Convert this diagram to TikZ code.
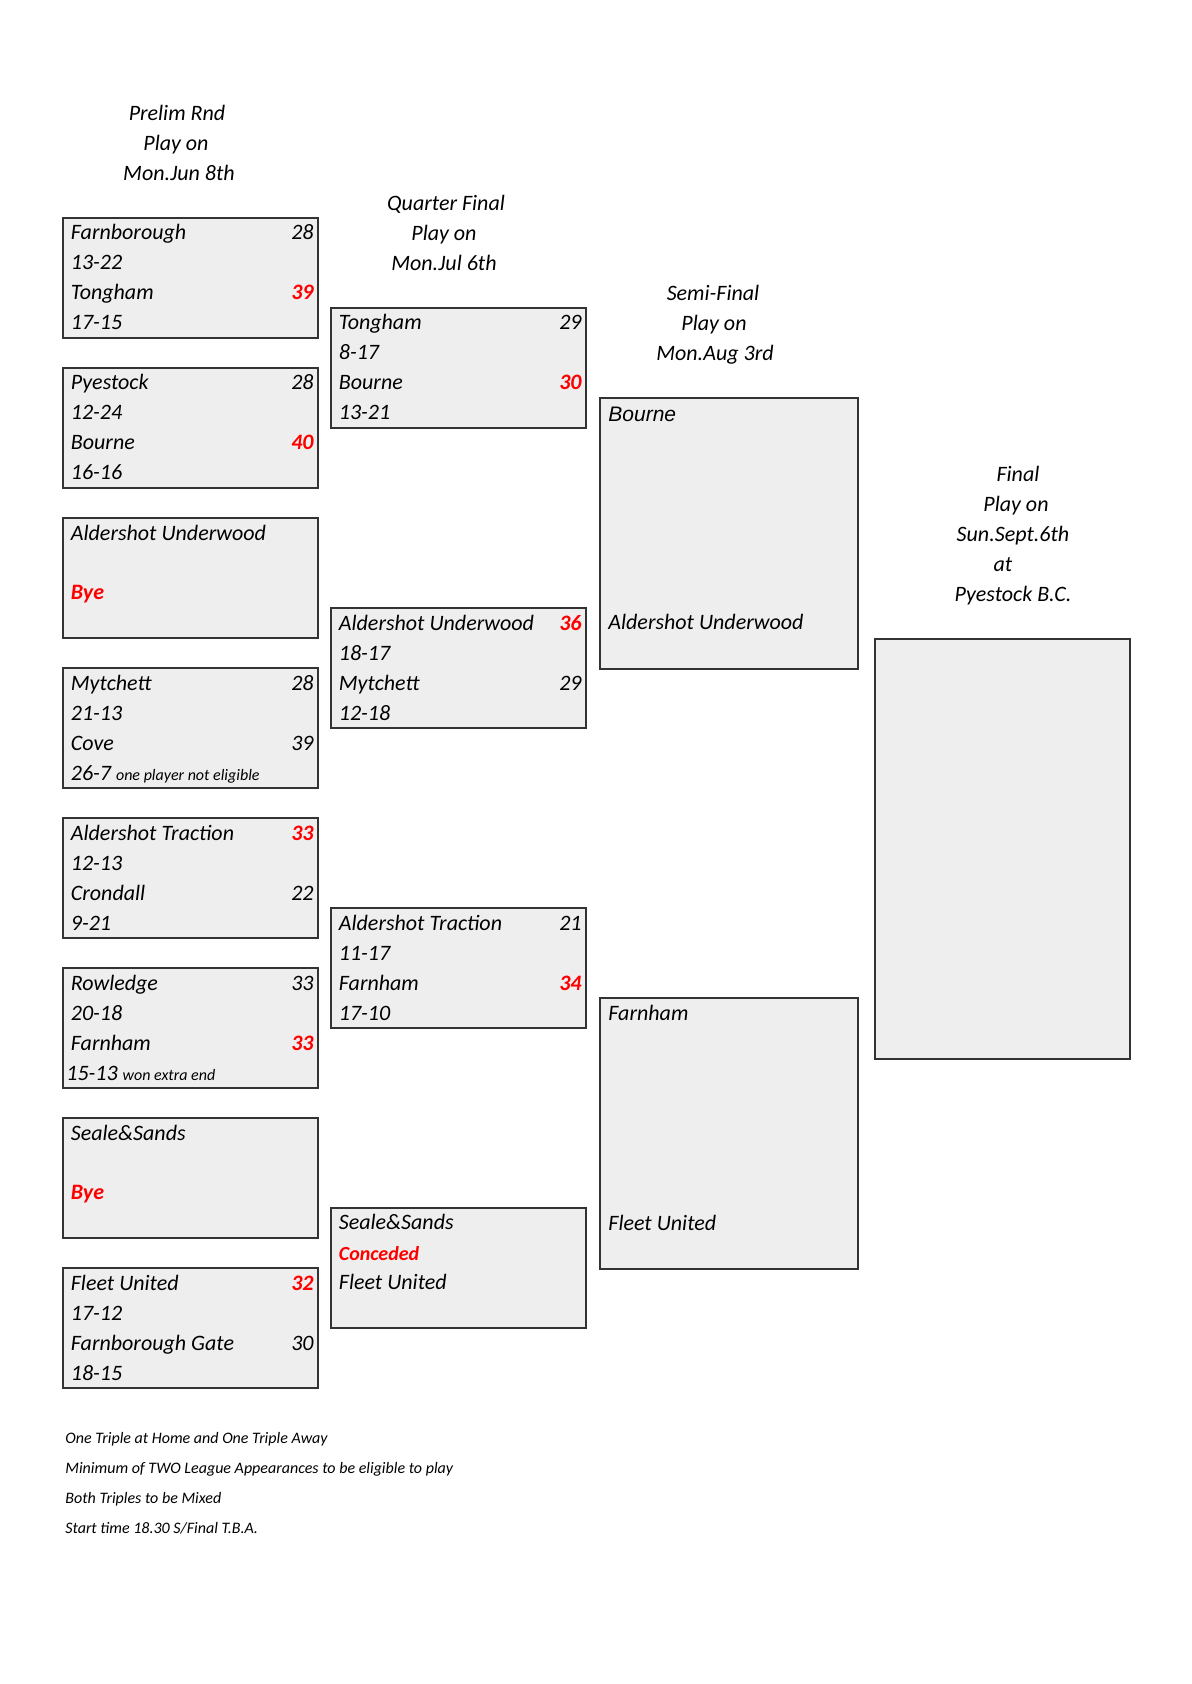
\documentclass[tikz,border=0pt]{standalone}
\usepackage{fontspec}
\setmainfont{Carlito}
\newfontfamily\arialfont{Liberation Sans}
\usetikzlibrary{positioning}
\definecolor{xlRed}{HTML}{FF0000}
\definecolor{xlGrey}{HTML}{EEEEEE}
\definecolor{xlEdge}{HTML}{333333}

\begin{document}
\begin{tikzpicture}[x=0.5pt,y=-0.5pt,
  tiebox/.style={draw=xlEdge, fill=xlGrey, line width=1pt, anchor=north west, inner sep=0pt, minimum width=127.5pt, minimum height=60pt},
  semibox/.style={tiebox, minimum width=129pt, minimum height=135.5pt},
  finalbox/.style={tiebox, minimum width=127.5pt, minimum height=210pt},
  hdr/.style={anchor=base, inner sep=0pt, font=\fontsize{11}{13}\selectfont\itshape},
  team/.style={anchor=base west, inner sep=0pt, font=\fontsize{11}{13}\selectfont\itshape},
  pts/.style={anchor=base east, inner sep=0pt, font=\fontsize{11}{13}\selectfont\itshape},
  win/.style={text=xlRed, font=\fontsize{11}{13}\selectfont\bfseries\itshape},
  note/.style={anchor=base west, inner sep=0pt, font=\fontsize{8}{10}\selectfont\itshape}
]
\useasboundingbox (0,0) rectangle (1191,1684);

% round headings
\foreach \txt/\x [count=\k] in {Prelim Rnd/177, Play on/176, Mon.Jun 8th/179}
  \node[hdr] (hp\k) at (\x,{91+30*\k}) {\txt};
\foreach \txt/\x [count=\k] in {Quarter Final/446, Play on/444, Mon.Jul 6th/444}
  \node[hdr] (hq\k) at (\x,{181+30*\k}) {\txt};
\foreach \txt/\x [count=\k] in {Semi-Final/713, Play on/714, Mon.Aug 3rd/715}
  \node[hdr] (hs\k) at (\x,{271+30*\k}) {\txt};
\foreach \txt/\x [count=\k] in {Final/1018, Play on/1016, Sun.Sept.6th/1013, at/1003, Pyestock B.C./1013}
  \node[hdr] (hf\k) at (\x,{451+30*\k}) {\txt};

% boxes
\foreach \t [count=\k] in {217,367,517,667,817,967,1117,1267}
  \node[tiebox] (p\k) at (62,\t) {};
\foreach \t [count=\k] in {307,607,907,1207}
  \node[tiebox] (q\k) at (330,\t) {};
\node[semibox] (s1) at (599,397) {};
\node[semibox] (s2) at (599,997) {};
\node[finalbox] (f1) at (874,638) {};

% prelim round
\node[team] (p1a) at (70.5,240) {Farnborough};
\node[pts] (p1as) at (314,240) {28};
\node[team] (p1b) at (70.5,270) {13-22};
\node[team] (p1c) at (70.5,300) {Tongham};
\node[pts,win] (p1cs) at (314,300) {39};
\node[team] (p1d) at (70.5,330) {17-15};

\node[team] (p2a) at (70.5,390) {Pyestock};
\node[pts] (p2as) at (314,390) {28};
\node[team] (p2b) at (70.5,420) {12-24};
\node[team] (p2c) at (70.5,450) {Bourne};
\node[pts,win] (p2cs) at (314,450) {40};
\node[team] (p2d) at (70.5,480) {16-16};

\node[team] (p3a) at (70.5,540) {Aldershot Underwood};
\node[team,win] (p3c) at (70.5,599) {Bye};

\node[team] (p4a) at (70.5,690) {Mytchett};
\node[pts] (p4as) at (314,690) {28};
\node[team] (p4b) at (70.5,720) {21-13};
\node[team] (p4c) at (70.5,750) {Cove};
\node[pts] (p4cs) at (314,750) {39};
\node[team] (p4d) at (70.5,780) {26-7 {\fontsize{8}{10}\selectfont one player not eligible}};

\node[team] (p5a) at (70.5,840) {Aldershot Traction};
\node[pts,win] (p5as) at (314,840) {33};
\node[team] (p5b) at (70.5,870) {12-13};
\node[team] (p5c) at (70.5,900) {Crondall};
\node[pts] (p5cs) at (314,900) {22};
\node[team] (p5d) at (70.5,930) {9-21};

\node[team] (p6a) at (70.5,990) {Rowledge};
\node[pts] (p6as) at (314,990) {33};
\node[team] (p6b) at (70.5,1020) {20-18};
\node[team] (p6c) at (70.5,1050) {Farnham};
\node[pts,win] (p6cs) at (314,1050) {33};
\node[team] (p6d) at (66,1080) {15-13 {\fontsize{8}{10}\selectfont won extra end}};

\node[team] (p7a) at (70.5,1140) {Seale\&Sands};
\node[team,win] (p7c) at (70.5,1199) {Bye};

\node[team] (p8a) at (70.5,1290) {Fleet United};
\node[pts,win] (p8as) at (314,1290) {32};
\node[team] (p8b) at (70.5,1320) {17-12};
\node[team] (p8c) at (70.5,1350) {Farnborough Gate};
\node[pts] (p8cs) at (314,1350) {30};
\node[team] (p8d) at (70.5,1380) {18-15};

% quarter finals
\node[team] (q1a) at (338.5,330) {Tongham};
\node[pts] (q1as) at (582,330) {29};
\node[team] (q1b) at (338.5,360) {8-17};
\node[team] (q1c) at (338.5,390) {Bourne};
\node[pts,win] (q1cs) at (582,390) {30};
\node[team] (q1d) at (338.5,420) {13-21};

\node[team] (q2a) at (338.5,630) {Aldershot Underwood};
\node[pts,win] (q2as) at (582,630) {36};
\node[team] (q2b) at (338.5,660) {18-17};
\node[team] (q2c) at (338.5,690) {Mytchett};
\node[pts] (q2cs) at (582,690) {29};
\node[team] (q2d) at (338.5,720) {12-18};

\node[team] (q3a) at (338.5,930) {Aldershot Traction};
\node[pts] (q3as) at (582,930) {21};
\node[team] (q3b) at (338.5,960) {11-17};
\node[team] (q3c) at (338.5,990) {Farnham};
\node[pts,win] (q3cs) at (582,990) {34};
\node[team] (q3d) at (338.5,1020) {17-10};

\node[team] (q4a) at (338.5,1229) {Seale\&Sands};
\node[team,win,font=\fontsize{10}{12}\selectfont\bfseries\itshape] (q4b) at (338.5,1260) {Conceded};
\node[team] (q4c) at (338.5,1289) {Fleet United};

% semi finals
\node[team,font=\fontsize{10.5}{13}\selectfont\arialfont\itshape] (s1a) at (608,422) {Bourne};
\node[team] (s1b) at (608,629) {Aldershot Underwood};
\node[team] (s2a) at (608,1020) {Farnham};
\node[team] (s2b) at (608,1230) {Fleet United};

% rules
\node[note] (n1) at (65,1443) {One Triple at Home and One Triple Away};
\node[note] (n2) at (65,1473) {Minimum of TWO League Appearances to be eligible to play};
\node[note] (n3) at (65,1503) {Both Triples to be Mixed};
\node[note] (n4) at (65,1533) {Start time 18.30 S/Final T.B.A.};
\end{tikzpicture}
\end{document}
